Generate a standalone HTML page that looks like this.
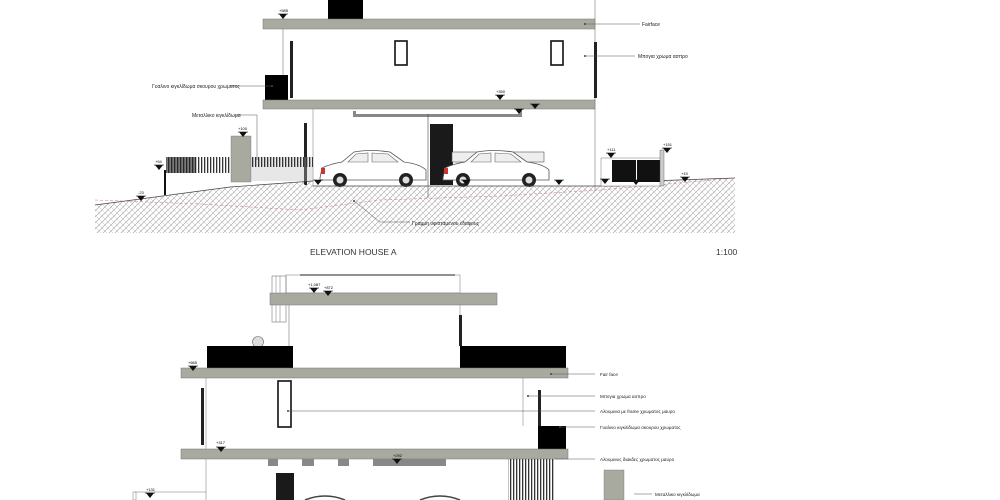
<!DOCTYPE html>
<html><head><meta charset="utf-8"><style>
html,body{margin:0;padding:0;background:#fff;width:1000px;height:500px;overflow:hidden}
svg text{font-family:"Liberation Sans",sans-serif}
</style></head><body>
<svg width="1000" height="500" viewBox="0 0 1000 500" xmlns="http://www.w3.org/2000/svg">
<defs>
<pattern id="h" width="6" height="6" patternUnits="userSpaceOnUse">
<path d="M0 6 L6 0 M-1 1 L1 -1 M5 7 L7 5" stroke="#9a9a9a" stroke-width="0.6"/>
<path d="M0 0 L6 6" stroke="#bbb" stroke-width="0.5"/>
</pattern>
<pattern id="f" width="3" height="10" patternUnits="userSpaceOnUse">
<rect width="1.3" height="10" fill="#333"/>
</pattern>
<g id="tri"><path d="M-4 0 L4 0 L0 5 Z" fill="#111"/><line x1="-5" y1="0" x2="5" y2="0" stroke="#111" stroke-width="0.6"/></g>
<g id="car">
<path d="M0 28 L2 18 Q10 14 22 12 L34 2 Q50 -1 70 2 L84 12 Q100 14 106 20 L106 30 L0 30 Z" fill="#fff" stroke="#555" stroke-width="0.8"/>
<path d="M36 4 L48 3 L48 12 L28 12 Z M52 3 L68 4 L78 12 L52 12 Z" fill="#eee" stroke="#666" stroke-width="0.6"/>
<circle cx="20" cy="30" r="7" fill="#222"/><circle cx="20" cy="30" r="3.5" fill="#ddd"/>
<circle cx="86" cy="30" r="7" fill="#222"/><circle cx="86" cy="30" r="3.5" fill="#ddd"/>
<path d="M1 18 L5 18 L5 24 L1 24 Z" fill="#c33"/>
</g>
</defs>

<line x1="595" y1="0" x2="595" y2="190" stroke="#777" stroke-width="0.6"/>
<rect x="328" y="0" width="35" height="19" fill="#000"/>
<rect x="263" y="19" width="332" height="10" fill="#a8a99f" stroke="#777" stroke-width="0.5"/>
<line x1="283" y1="29" x2="283" y2="100" stroke="#777" stroke-width="0.6"/>
<rect x="290" y="41" width="3" height="57" fill="#222"/>
<rect x="594" y="42" width="3" height="56" fill="#222"/>
<rect x="395" y="41" width="12" height="24" fill="#fff" stroke="#111" stroke-width="1.6"/>
<rect x="551" y="41" width="12" height="24" fill="#fff" stroke="#111" stroke-width="1.6"/>
<rect x="265" y="75" width="23" height="25" fill="#000"/>
<rect x="263" y="100" width="332" height="9" fill="#a8a99f" stroke="#777" stroke-width="0.5"/>
<path d="M353 111 L356 111 L356 114 L519 114 L519 111 L522 111 L522 117 L353 117 Z" fill="#888"/>
<line x1="313" y1="109" x2="313" y2="186" stroke="#777" stroke-width="0.5"/>
<rect x="304" y="123" width="3" height="62" fill="#222"/>
<rect x="430" y="124" width="23" height="61" fill="#1a1a1a"/>
<line x1="428" y1="114" x2="428" y2="198" stroke="#444" stroke-width="0.6"/>
<rect x="452" y="152" width="92" height="10" fill="#eee" stroke="#555" stroke-width="0.6"/>
<use href="#car" x="320" y="150"/>
<use href="#car" x="443" y="150"/>
<rect x="231" y="136" width="20" height="46" fill="#a8a99f" stroke="#777" stroke-width="0.4"/>
<rect x="251" y="157" width="62" height="24" fill="#bbb" opacity="0.35"/>
<rect x="251" y="157" width="62" height="10" fill="url(#f)"/>
<rect x="166" y="157" width="65" height="16" fill="url(#f)"/>
<rect x="166" y="157" width="30" height="16" fill="#222" opacity="0.6"/>
<rect x="164" y="170" width="2" height="25" fill="#111"/>
<path d="M95 205 L230 187 L313 181 L313 186 L620 186 L620 182 L735 178 L735 233 L95 233 Z" fill="url(#h)"/>
<path d="M95 205 L230 187 L313 181 M313 186 L620 186 M620 182 L735 178" stroke="#444" stroke-width="0.7" fill="none"/>
<path d="M95 200 L200 204 L300 210 L380 200 L500 196 L600 190 L735 178" stroke="#c77" stroke-width="0.5" stroke-dasharray="3 2" fill="none"/>
<rect x="601" y="158" width="60" height="28" fill="#fff" stroke="#777" stroke-width="0.5"/>
<rect x="612" y="160" width="24" height="22" fill="#111"/><rect x="637" y="160" width="23" height="22" fill="#111"/>
<rect x="660" y="150" width="4" height="36" fill="#ccc" stroke="#555" stroke-width="0.4"/>
<use href="#tri" x="283" y="14"/><text x="279" y="12" font-size="4">+585</text>
<use href="#tri" x="500" y="95"/><text x="496" y="93" font-size="4">+350</text>
<use href="#tri" x="519" y="109"/><use href="#tri" x="535" y="104"/>
<use href="#tri" x="243" y="132"/><text x="238" y="130" font-size="4">+100</text>
<use href="#tri" x="159" y="165"/><text x="155" y="163" font-size="4">+54</text>
<use href="#tri" x="141" y="196"/><text x="138" y="194" font-size="4">-23</text>
<use href="#tri" x="318" y="180"/><use href="#tri" x="466" y="180"/><use href="#tri" x="559" y="180"/>
<use href="#tri" x="605" y="179"/><use href="#tri" x="611" y="153"/><text x="607" y="151" font-size="4">+111</text>
<use href="#tri" x="667" y="148"/><text x="663" y="146" font-size="4">+151</text>
<use href="#tri" x="636" y="180"/><use href="#tri" x="685" y="177"/><text x="681" y="175" font-size="4">+19</text>
<g stroke="#555" stroke-width="0.5">
<line x1="585" y1="24" x2="640" y2="24"/><line x1="585" y1="56" x2="635" y2="56"/>
<line x1="230" y1="86" x2="272" y2="86"/>
<line x1="234" y1="115" x2="257" y2="115"/><line x1="257" y1="115" x2="257" y2="160"/>
<line x1="354" y1="201" x2="380" y2="222"/><line x1="380" y1="222" x2="410" y2="222"/>
</g>
<g fill="#444"><circle cx="585" cy="24" r="1"/><circle cx="585" cy="56" r="1"/><circle cx="272" cy="86" r="1"/><circle cx="354" cy="201" r="1"/></g>
<g font-size="5" fill="#222">
<text x="642" y="26">Fairface</text>
<text x="638" y="58">Μπογια χρωμα ασπρο</text>
<text x="152" y="88">Γυαλινο κιγκλίδωμα σκουρου χρωματος</text>
<text x="192" y="117">Μεταλλικο κιγκλίδωμα</text>
<text x="412" y="225">Γραμμη υφισταμενου εδαφους</text>
</g>
<text x="310" y="255" font-size="8.5" fill="#333">ELEVATION HOUSE A</text>
<text x="716" y="255" font-size="8.5" fill="#333">1:100</text>

<rect x="286" y="275" width="174" height="18" fill="#fff" stroke="#777" stroke-width="0.5"/>
<line x1="300" y1="275" x2="455" y2="275" stroke="#222" stroke-width="1"/>
<rect x="272" y="276" width="14" height="46" fill="none" stroke="#777" stroke-width="0.6"/>
<line x1="276" y1="276" x2="276" y2="322" stroke="#777" stroke-width="0.5"/><line x1="280" y1="276" x2="280" y2="322" stroke="#777" stroke-width="0.5"/>
<line x1="289" y1="305" x2="289" y2="346" stroke="#777" stroke-width="0.6"/>
<rect x="270" y="293" width="227" height="12" fill="#a8a99f" stroke="#777" stroke-width="0.5"/>
<line x1="460" y1="305" x2="460" y2="346" stroke="#777" stroke-width="0.5"/>
<rect x="459" y="315" width="3" height="31" fill="#222"/>
<circle cx="258" cy="342" r="5.5" fill="#ddd" stroke="#666" stroke-width="0.6"/>
<rect x="207" y="346" width="86" height="22" fill="#000"/>
<rect x="460" y="346" width="106" height="22" fill="#000"/>
<rect x="181" y="368" width="387" height="10" fill="#a8a99f" stroke="#777" stroke-width="0.5"/>
<line x1="206" y1="378" x2="206" y2="449" stroke="#777" stroke-width="0.5"/>
<line x1="523" y1="378" x2="523" y2="426" stroke="#777" stroke-width="0.5"/>
<rect x="201" y="388" width="3" height="57" fill="#222"/>
<rect x="538" y="390" width="3" height="36" fill="#222"/>
<rect x="278" y="381" width="13" height="46" fill="#fff" stroke="#111" stroke-width="1.6"/>
<rect x="538" y="426" width="28" height="23" fill="#000"/>
<rect x="181" y="449" width="387" height="10" fill="#a8a99f" stroke="#777" stroke-width="0.5"/>
<path d="M268 459 h10 v7 h-10 Z M302 459 h12 v7 h-12 Z M338 459 h11 v7 h-11 Z M373 459 h73 v7 h-73 Z" fill="#888"/>
<rect x="276" y="473" width="18" height="27" fill="#1a1a1a"/>
<rect x="508" y="459" width="47" height="41" fill="url(#f)"/>
<rect x="604" y="470" width="20" height="30" fill="#a8a99f" stroke="#777" stroke-width="0.4"/>
<line x1="206" y1="459" x2="206" y2="500" stroke="#777" stroke-width="0.5"/>
<line x1="135" y1="492" x2="206" y2="492" stroke="#777" stroke-width="0.5"/>
<rect x="133" y="492" width="3" height="8" fill="none" stroke="#777" stroke-width="0.5"/>
<path d="M305 500 Q325 492 345 500 M420 500 Q440 492 460 500" stroke="#444" stroke-width="1.5" fill="none"/>
<use href="#tri" x="314" y="288"/><text x="308" y="286" font-size="4">+1,087</text>
<use href="#tri" x="328" y="291"/><text x="324" y="289" font-size="4">+872</text>
<use href="#tri" x="193" y="366"/><text x="188" y="364" font-size="4">+665</text>
<use href="#tri" x="221" y="447"/><text x="216" y="444" font-size="4">+317</text>
<use href="#tri" x="397" y="459"/><text x="393" y="457" font-size="4">+292</text>
<use href="#tri" x="150" y="493"/><text x="146" y="491" font-size="4">+131</text>
<g stroke="#555" stroke-width="0.5">
<line x1="551" y1="374" x2="595" y2="374"/><line x1="528" y1="396" x2="595" y2="396"/>
<line x1="288" y1="411" x2="595" y2="411"/><line x1="560" y1="427" x2="595" y2="427"/>
<line x1="555" y1="459" x2="595" y2="459"/><line x1="634" y1="494" x2="652" y2="494"/>
</g>
<g fill="#444"><circle cx="551" cy="374" r="1"/><circle cx="528" cy="396" r="1"/><circle cx="288" cy="411" r="1"/><circle cx="560" cy="427" r="1"/></g>
<g font-size="4.6" fill="#222">
<text x="600" y="376">Fair face</text>
<text x="600" y="398">Μπογια χρωμα ασπρο</text>
<text x="600" y="413">Αλουμινια με frame χρωματος μαυρο</text>
<text x="600" y="429">Γυαλινο κιγκλίδωμα σκουρου χρωματος</text>
<text x="600" y="461">Αλουμινιες διακδες χρωματος μαυρο</text>
<text x="655" y="496">Μεταλλικο κιγκλίδωμα</text>
</g>
</svg>
</body></html>
